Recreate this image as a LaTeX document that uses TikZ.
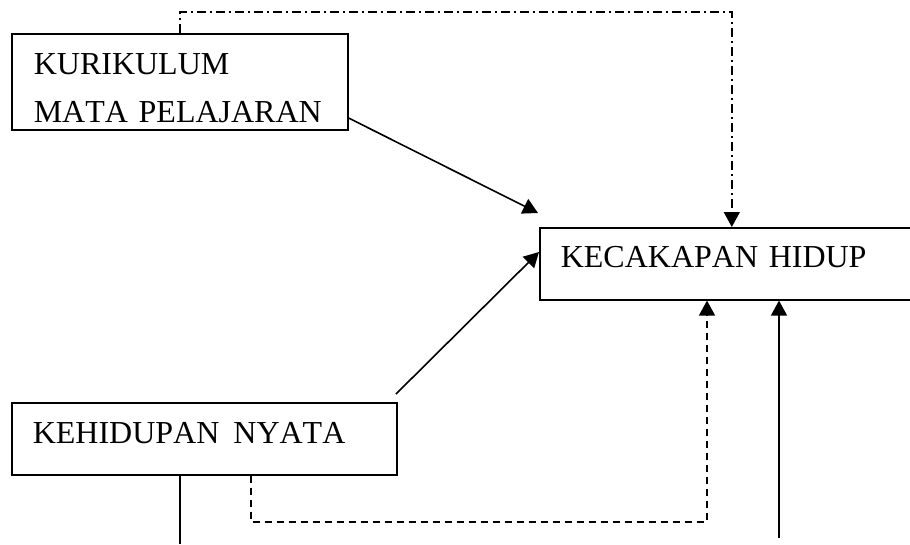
\documentclass[tikz,border=0pt]{standalone}
\usepackage{fontspec}
\setmainfont{Liberation Serif}[Kerning=Off]
\usetikzlibrary{arrows.meta}
\begin{document}
\begin{tikzpicture}[x=1pt,y=-1pt,
  box/.style={draw,line width=1.6pt,rectangle,inner ysep=0pt,anchor=north west,
    font=\fontsize{32}{48}\selectfont,align=left},
  conn/.style={line width=1.6pt},
  tip/.style={-{Triangle[length=15pt,width=16pt]}},
  dashdotline/.style={conn,dash pattern=on 9pt off 4pt on 2pt off 4pt},
  dashline/.style={conn,dash pattern=on 7pt off 5pt}]
\useasboundingbox (0,0) rectangle (910,544);
\fill[white] (0,0) rectangle (910,544);
\node[box,minimum width=336pt,text width=292pt,inner xsep=22pt,text height=41pt,text depth=55pt]
  (kur) at (11,33) {KURIKULUM\\MATA PELAJARAN};
\node[box,minimum width=384pt,text width=342pt,inner xsep=21pt,text height=40pt,text depth=32pt]
  (kec) at (539,227) {KECAKAPAN HIDUP};
\node[box,minimum width=385pt,text width=343pt,inner xsep=21pt,text height=41pt,text depth=31pt]
  (keh) at (11,402) {KEHIDUPAN\hspace{14pt}NYATA};
% dash-dot connector
\coordinate (t1) at (kec.north |- 0,12);
\draw[dashdotline,tip] (kur.north) |- (t1) -- (kec.north);
% solid arrow from kurikulum
\coordinate (k1) at (kur.east |- 0,118);
\coordinate (k2) at (538,213);
\draw[conn,tip] (k1) -- (k2);
% from kehidupan nyata
\coordinate (h1) at (396,394);
\coordinate (h2) at (kec.west |- 0,252);
\draw[conn,tip] (h1) -- (h2);
% dashed connector
\coordinate (d0) at (keh.south -| 251,0);
\coordinate (d1) at (251,522);
\coordinate (d2) at (707,522);
\draw[dashline,tip] (d0) -- (d1) -- (d2) -- (d2 |- kec.south);
% solid lines at bottom
\coordinate (s0) at (keh.south -| 180,0);
\coordinate (s1) at (180,544);
\draw[conn] (s0) -- (s1);
\coordinate (u0) at (779,538);
\draw[conn,tip] (u0) -- (u0 |- kec.south);
\end{tikzpicture}
\end{document}
